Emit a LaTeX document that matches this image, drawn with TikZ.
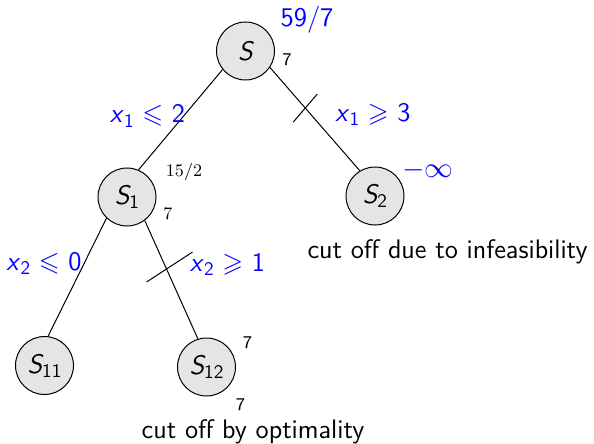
\documentclass[tikz,border=0pt]{standalone}
\usepackage{amssymb}
\newcommand{\sbs}[1]{\raisebox{-0.35ex}{\fontsize{9.6}{11}\selectfont #1}}
\begin{document}
\begin{tikzpicture}[x=0.5pt,y=-0.5pt,
  tnode/.style={circle,draw,fill=black!10,line width=0.5pt,minimum size=29pt,inner sep=0pt,
    font=\fontsize{13.4}{16}\selectfont\sffamily\itshape},
  cons/.style={text=blue,font=\fontsize{13.4}{16}\selectfont\sffamily,anchor=base,inner sep=0pt},
  note/.style={font=\fontsize{13.4}{16}\selectfont\sffamily,anchor=base,inner sep=0pt},
  bnd/.style={font=\fontsize{9}{10}\selectfont\sffamily,anchor=base,inner sep=0pt},
  bnds/.style={font=\fontsize{8.8}{10}\selectfont\rmfamily,anchor=base,inner sep=0pt},
  edge/.style={line width=0.5pt}]
\useasboundingbox (0,0) rectangle (594,444);
% nodes
\node[tnode] (S)   at (245.5,51)  {S};
\node[tnode] (S1)  at (127,197)   {S\sbs{\upshape 1}};
\node[tnode] (S2)  at (375,196)   {S\sbs{\upshape 2}};
\node[tnode] (S11) at (44.5,365.5) {S\sbs{\upshape 11}};
\node[tnode] (S12) at (206.5,367) {S\sbs{\upshape 12}};
% edges
\draw[edge] (S.219) -- (S1.67);
\draw[edge] (S.326) -- coordinate[pos=0.393] (c1) (S2.121);
\draw[edge] (S1.226) -- (S11.83);
\draw[edge] (S1.307) -- coordinate[pos=0.41] (c2) (S12.107);
% cut ticks
\draw[edge] (c1) ++(-12,14) -- ++(24,-28);
\draw[edge] (c2) ++(-20,13) -- ++(46,-30);
% branching constraints
\node[cons] (l1) at (147.5,123) {\textit{x}\sbs{1} $\leqslant$ 2};
\node[cons] (l2) at (373,121) {\textit{x}\sbs{1} $\geqslant$ 3};
\node[cons] (l3) at (44,270) {\textit{x}\sbs{2} $\leqslant$ 0};
\node[cons] (l4) at (227.5,271) {\textit{x}\sbs{2} $\geqslant$ 1};
% bounds
\node[cons,font=\fontsize{13.5}{16}\selectfont\sffamily] (ub0) at (307,27) {59/7};
\node[bnd] (lb0) at (287,66) {7};
\node[bnds] (ub1) at (184,176.5) {15/2};
\node[bnds] (lb1) at (168,219) {7};
\node[text=blue,inner sep=0pt,font=\fontsize{13.4}{16}\selectfont] (ub2) at (428,170) {$-\infty$};
\node[bnd] (ub12) at (247.5,348) {7};
\node[bnd] (lb12) at (240.5,410) {7};
% notes
\node[note] (n2) at (447.5,258) {cut off due to infeasibility};
\node[note] (n12) at (253,438) {cut off by optimality};
\end{tikzpicture}
\end{document}
